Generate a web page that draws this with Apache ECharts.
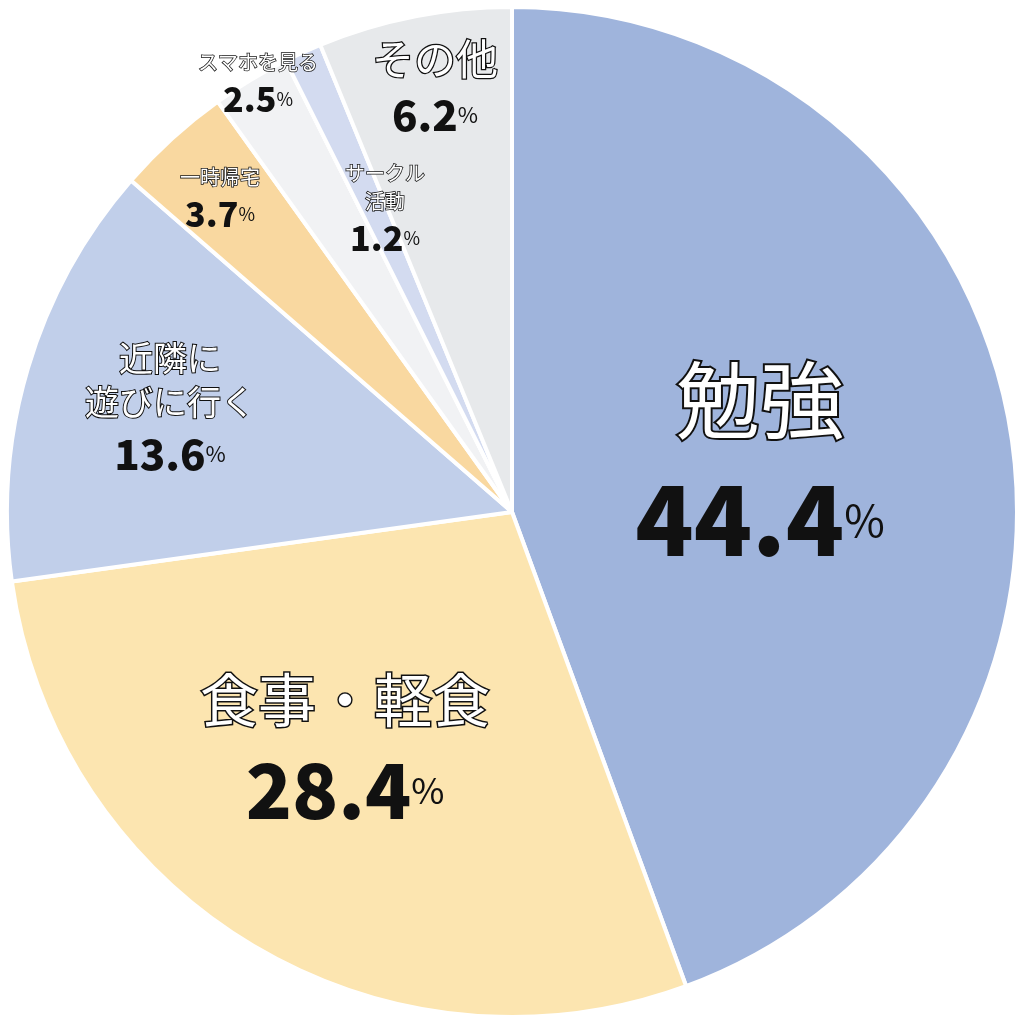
<!DOCTYPE html>
<html><head><meta charset="utf-8">
<script src="https://cdn.jsdelivr.net/npm/echarts@6/dist/echarts.min.js"></script>
<style>html,body{margin:0;background:#fff}#c{width:1024px;height:1024px}</style>
</head><body><div id="c"></div>
<script>
const categories = ['勉強','食事・軽食','近隣に\n遊びに行く','一時帰宅','スマホを見る','サークル\n活動','その他'];
const values = [44.4,28.4,13.6,3.7,2.5,1.2,6.2];
const colors = ['#9fb4dc','#fce5b0','#c1cfea','#f9d8a0','#f1f2f4','#d3dbf0','#e7e9eb'];
const sizes = ['L','M','N','S','S','S','T'];
const labelPos = [[760,455],[345,745],[170,410],[220,200],[258,85],[385,210],[435,85]];

const chart = echarts.init(document.getElementById('c'));
const F = '"Noto Sans CJK JP","Noto Sans",sans-serif';
const st = (fs, opt) => Object.assign({fontFamily:F, fontSize:fs, fontWeight:'bold', color:'#111', align:'center'}, opt||{});
const outl = w => ({color:'#fff', textBorderColor:'#111', textBorderWidth:w});
chart.setOption({
  animation:false,
  series:[{
    type:'pie', center:[512,512], radius:[0,505], startAngle:90,
    itemStyle:{borderColor:'#fff', borderWidth:4},
    label:{position:'inside', lineHeight:0,
      formatter: p => { const s=sizes[p.dataIndex];
        return p.name.split('\n').map(t=>'{n'+s+'|'+t+'}').join('\n') + '\n{v'+s+'|'+p.value+'}{p'+s+'|%}'; },
      rich:{
        nL:st(84,Object.assign({lineHeight:130,fontWeight:'normal'},outl(4))), vL:st(96,{lineHeight:110,fontWeight:900}), pL:st(44,{fontWeight:'normal'}),
        nM:st(58,Object.assign({lineHeight:90,fontWeight:'normal'},outl(3))), vM:st(76,{lineHeight:90,fontWeight:900}), pM:st(36,{fontWeight:'normal'}),
        nN:st(34,Object.assign({lineHeight:44,fontWeight:'normal'},outl(2))), vN:st(42,{lineHeight:60,fontWeight:900}), pN:st(22,{fontWeight:'normal'}),
        nS:st(20,Object.assign({lineHeight:28,fontWeight:'normal'},outl(1.5))), vS:st(34,{lineHeight:46,fontWeight:900}), pS:st(18,{fontWeight:'normal'}),
        nT:st(42,Object.assign({lineHeight:60,fontWeight:'normal'},outl(2.5))), vT:st(42,{lineHeight:52,fontWeight:900}), pT:st(22,{fontWeight:'normal'})
      }},
    labelLine:{show:false},
    labelLayout: p => ({x:labelPos[p.dataIndex][0], y:labelPos[p.dataIndex][1], align:'center', verticalAlign:'middle'}),
    data: categories.map((c,i)=>({name:c, value:values[i], itemStyle:{color:colors[i]}}))
  }]
});
</script></body></html>
